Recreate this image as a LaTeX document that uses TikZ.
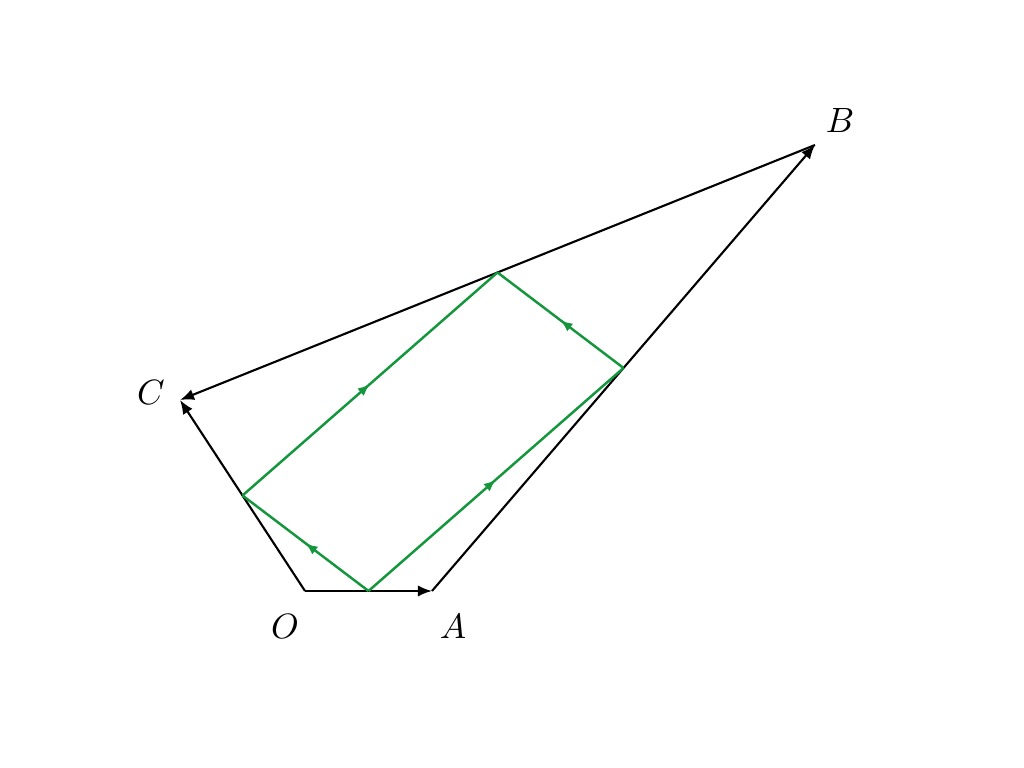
\documentclass[tikz,border=0pt]{standalone}
\usepackage{amsmath}
\usepackage{xcolor}
\usetikzlibrary{calc,arrows.meta,decorations.markings}
\definecolor{midgreen}{RGB}{20,150,60}
\tikzset{
  vec/.style={-{Latex[length=4pt,width=3.2pt]}, line width=0.6pt, black},
  midvec/.style={midgreen, line width=0.7pt, postaction={decorate},
    decoration={markings, mark=at position 0.5 with {\arrow{Latex[length=3.4pt,width=2.8pt]}}}}
}

\begin{document}
\begin{tikzpicture}
\useasboundingbox (0,0) rectangle (10.24,7.68);
\coordinate (O) at (3.05,1.77);
\coordinate (A) at (4.32,1.77);
\coordinate (B) at (8.15,6.23);
\coordinate (C) at (1.80,3.68);

\coordinate (OA) at ($(O)!0.5!(A)$);
\coordinate (AB) at ($(A)!0.5!(B)$);
\coordinate (BC) at ($(B)!0.5!(C)$);
\coordinate (CO) at ($(C)!0.5!(O)$);

\node (LO) at (2.85,1.42) {$O$};
\node (LA) at (4.53,1.42) {$A$};
\node (LB) at (8.40,6.47) {$B$};
\node (LC) at (1.51,3.75) {$C$};

\draw [vec] (O) -- (A);
\draw [vec] (A) -- (B);
\draw [vec] (B) -- (C);
\draw [vec] (O) -- (C);

\draw [midvec] (OA) -- (AB);
\draw [midvec] (AB) -- (BC);
\draw [midvec] (OA) -- (CO);
\draw [midvec] (CO) -- (BC);

\end{tikzpicture}
\end{document}
